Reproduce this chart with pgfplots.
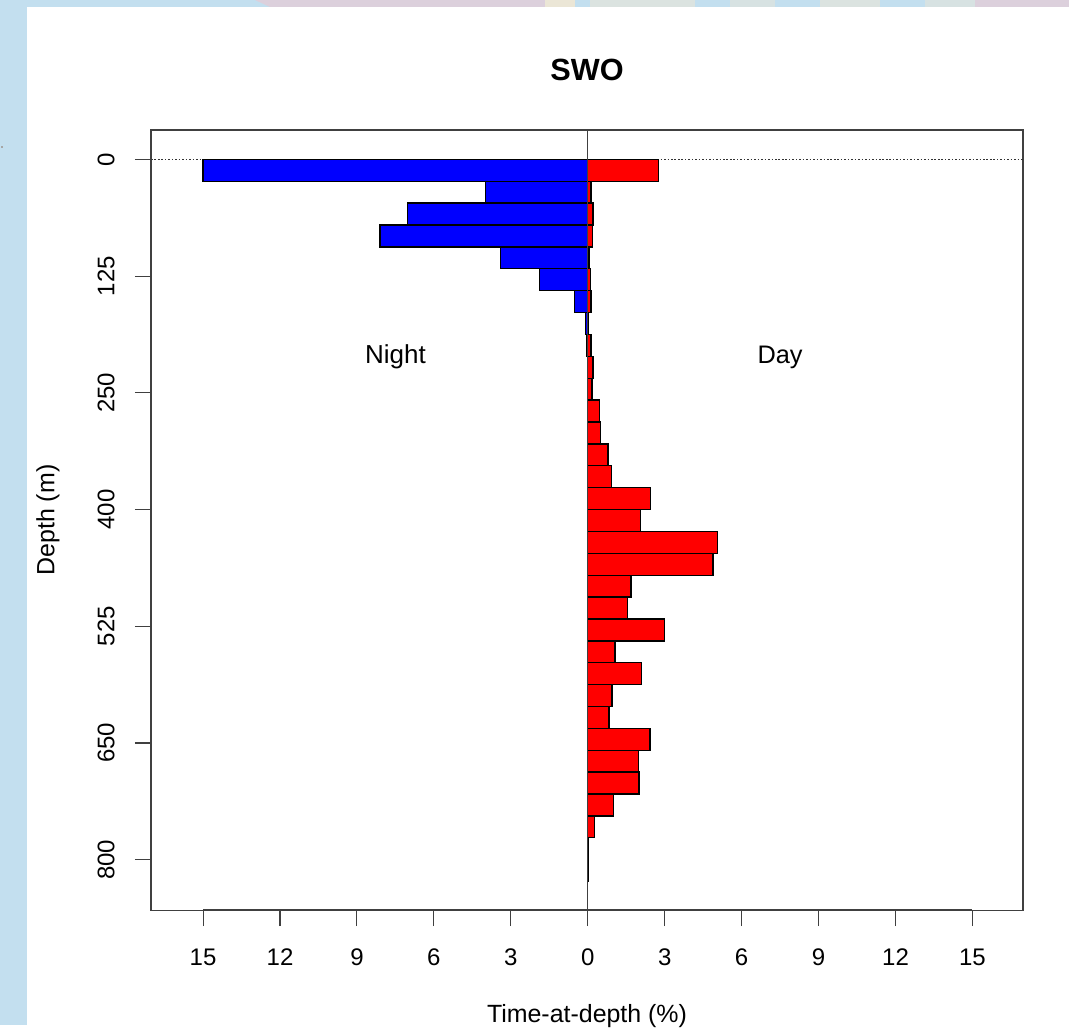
\documentclass[border=0pt]{standalone}
\usepackage{fontspec}
\setmainfont{Liberation Sans}
\usepackage{pgfplots}
\pgfplotsset{compat=1.18}
\usepackage{pgfplotstable}
\definecolor{pagebg}{HTML}{C3DFEF}
\definecolor{framecol}{HTML}{404040}
\definecolor{mappink}{HTML}{DCD0DC}
\definecolor{mapsand}{HTML}{EBE6D6}

% depth bin centres (25 m bins), time-at-depth in percent
\pgfplotstableread{
depth night
12.5  -15.0
37.5  -4.0
62.5  -7.03
87.5  -8.1
112.5 -3.4
137.5 -1.87
162.5 -0.53
187.5 -0.1
212.5 -0.03
237.5 -0.02
}\nightdata
\pgfplotstableread{
depth day
12.5  2.75
37.5  0.12
62.5  0.2
87.5  0.18
112.5 0.05
137.5 0.1
162.5 0.12
187.5 0.04
212.5 0.12
237.5 0.2
262.5 0.17
287.5 0.46
312.5 0.49
337.5 0.79
362.5 0.93
387.5 2.45
412.5 2.06
437.5 5.06
462.5 4.88
487.5 1.69
512.5 1.55
537.5 2.98
562.5 1.06
587.5 2.1
612.5 0.94
637.5 0.83
662.5 2.42
687.5 1.99
712.5 2.0
737.5 1.0
762.5 0.25
787.5 0.03
812.5 0.01
}\daydata

\begin{document}
\begin{tikzpicture}
% page behind the plot, coordinates in reference pixels
\begin{scope}[x=0.75pt,y=-0.75pt]
\useasboundingbox (0,0) rectangle (1069,1025);
\fill[pagebg] (0,0) rectangle (1069,1025);
% strip of the map image above the white panel
\fill[mappink] (255,0) -- (545,0) -- (545,7) -- (270,7) -- cycle;
\fill[mapsand] (545,0) rectangle (575,7);
\fill[mapsand!60!pagebg] (590,0) rectangle (695,7);
\fill[mapsand!50!pagebg] (730,0) rectangle (775,7);
\fill[mapsand!60!pagebg] (820,0) rectangle (880,7);
\fill[mapsand!50!pagebg] (925,0) rectangle (975,7);
\fill[mappink] (975,0) rectangle (1069,7);
\fill[white] (27,7) rectangle (1069,1025);
\fill[gray!70] (1,146) rectangle (3,148);
\end{scope}
\begin{axis}[
    at={(113.25pt,-682.5pt)}, anchor=south west,
    scale only axis,
    clip=false,
    width=654pt, height=585pt,
    xmin=-17.03, xmax=16.97,
    ymin=-33.5, ymax=857.5,
    y dir=reverse,
    axis line style={framecol, line width=0.8pt},
    tick style={framecol, line width=0.8pt},
    tick align=outside,
    major tick length=12pt,
    xtick={-15,-12,...,15},
    xticklabels={15,12,9,6,3,0,3,6,9,12,15},
    ytick={0,133.33,266.67,400,533.33,666.67,800},
    yticklabels={0,125,250,400,525,650,800},
    xtick pos=bottom, ytick pos=left,
    /pgf/number format/assume math mode=true,
    /pgf/number format/1000 sep={},
    tick label style={font=\fontsize{18}{20}\selectfont},
    xticklabel style={anchor=base, yshift=-29.25pt},
    yticklabel style={rotate=90, anchor=center, yshift=21.75pt},
    title={\textbf{SWO}},
    title style={font=\fontsize{23}{26}\selectfont, at={(axis description cs:0.5,1.0769)}, anchor=center, yshift=-6pt},
    xlabel={Time-at-depth (\%)},
    xlabel style={font=\fontsize{18.7}{20}\selectfont, at={(axis description cs:0.5,-0.1346)}, anchor=center, yshift=-1pt},
    ylabel={Depth (m)},
    ylabel style={font=\fontsize{18.7}{20}\selectfont, at={(axis description cs:-0.1204,0.5)}, anchor=center, rotate=0, yshift=-1.5pt},
]
\addplot[black!80, line width=1pt, dash pattern=on 1.2pt off 1.4pt, forget plot] coordinates {(-17.03,0) (16.97,0)};
\addplot[xbar, bar width=25, bar shift=0pt, fill=blue, draw=black, line width=1pt] table[x=night, y=depth] {\nightdata};
\addplot[xbar, bar width=25, bar shift=0pt, fill=red, draw=black, line width=1pt] table[x=day, y=depth] {\daydata};
\addplot[black!75, line width=0.7pt] coordinates {(0,-33.5) (0,857.5)};
\addplot[framecol, line width=1.3pt] coordinates {(-15,857.5) (15,857.5)};
\addplot[framecol, line width=1.2pt] coordinates {(-17.03,0) (-17.03,800)};
\node[font=\fontsize{19.5}{22}\selectfont] at (axis cs:-7.5,226) {Night};
\node[font=\fontsize{19}{22}\selectfont] at (axis cs:7.5,226) {Day};
\end{axis}
\end{tikzpicture}
\end{document}
